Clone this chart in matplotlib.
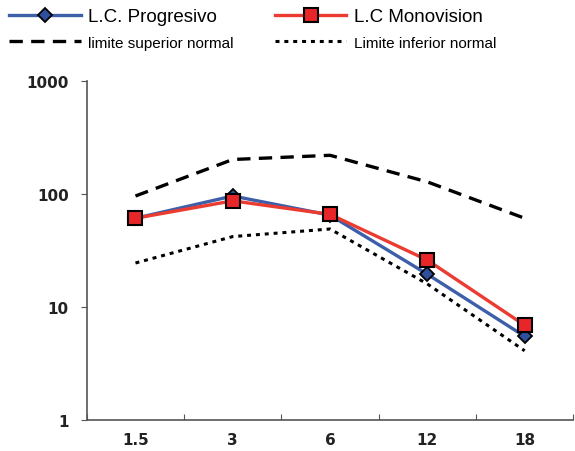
import matplotlib
matplotlib.use("Agg")
import matplotlib.pyplot as plt

plt.rcParams['font.family'] = ['Liberation Sans', 'DejaVu Sans']

# Data
meses = ["1.5", "3", "6", "12", "18"]
progresivo = [61, 96, 65, 19.5, 5.5]
monovision = [61, 87, 66, 26, 6.9]
lim_superior = [96, 202, 220, 128, 61]
lim_inferior = [24.5, 42, 49, 16, 4.1]

x = list(range(len(meses)))

fig = plt.figure(figsize=(5.75, 4.52), dpi=100)
ax = fig.add_axes([0.151, 0.0686, 0.846, 0.75])

ax.plot(x, lim_superior, color="black", lw=2.4, ls=(0, (4, 2.5)),
        label="limite superior normal")
ax.plot(x, lim_inferior, color="black", lw=2.2, ls=(0, (1.3, 1.6)),
        label="Limite inferior normal")
ax.plot(x, progresivo, color="#3d5ea8", lw=2.4, marker="D", ms=7,
        mfc="#2f4f9c", mec="black", mew=1.3, label="L.C. Progresivo")
ax.plot(x, monovision, color="#ec3b30", lw=2.4, marker="s", ms=10,
        mfc="#e8262a", mec="black", mew=1.5, label="L.C Monovision")

ax.set_yscale("log")
ax.set_ylim(1, 1000)
ax.set_xlim(-0.5, 4.5)
ax.set_yticks([1, 10, 100, 1000])
ax.set_yticklabels(["1", "10", "100", "1000"])
ax.minorticks_off()
ax.set_xticks([i - 0.5 for i in range(len(meses) + 1)])
ax.set_xticklabels([])
ax.set_xticks(x, minor=True)
ax.set_xticklabels(meses, minor=True)
ax.tick_params(axis="x", which="minor", length=0, pad=9)
ax.tick_params(axis="x", which="major", length=4, direction="in", color="#555555")
ax.tick_params(axis="y", length=4, direction="out", color="#555555", pad=9)
for lab in ax.get_xticklabels(minor=True) + ax.get_yticklabels():
    lab.set_fontfamily("DejaVu Sans")
    lab.set_fontweight("bold")
    lab.set_fontsize(11)
    lab.set_color("#222222")

for s in ["top", "right"]:
    ax.spines[s].set_visible(False)
for s in ["left", "bottom"]:
    ax.spines[s].set_color("#555555")
    ax.spines[s].set_linewidth(1.2)

handles, labels = ax.get_legend_handles_labels()
order = [2, 0, 3, 1]
leg = fig.legend([handles[i] for i in order], [labels[i] for i in order],
                 loc="upper left", bbox_to_anchor=(0.0, 1.0), ncol=2,
                 frameon=False, handlelength=3.8, handletextpad=0.4,
                 columnspacing=2.2, labelspacing=0.45, fontsize=13.5,
                 borderaxespad=0.1)
for t in leg.get_texts():
    if "mite" in t.get_text():
        t.set_fontsize(11)

fig.savefig("out.png", dpi=100)
